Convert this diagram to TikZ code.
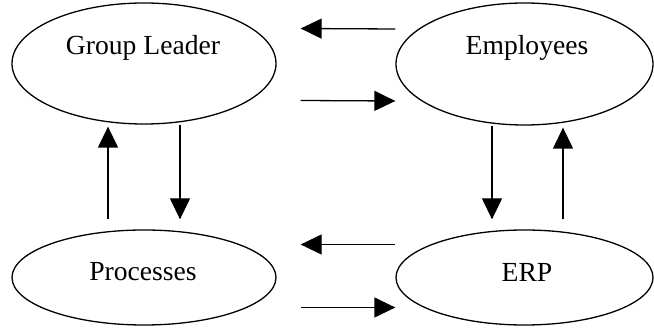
\documentclass[tikz,border=0pt]{standalone}
\usepackage{fontspec}
\setmainfont{Liberation Serif}
\usetikzlibrary{shapes.geometric,arrows.meta}
\tikzset{
  blob/.style={draw,ellipse,line width=1.3pt,inner sep=0pt},
  flow/.style={line width=1.3pt,-{Triangle[length=21pt,width=20pt]}},
  blobtext/.style={font=\fontsize{27.6pt}{30pt}\selectfont}
}
\begin{document}
\begin{tikzpicture}[x=1pt,y=-1pt]
  \useasboundingbox (0,0) rectangle (654,328);
  % 椭圆
  \node[blob,minimum width=264pt,minimum height=121pt] (gl) at (144,63.5) {};
  \node[blob,minimum width=257pt,minimum height=122pt] (emp) at (524.5,64) {};
  \node[blob,minimum width=264pt,minimum height=95pt] (proc) at (144,277.5) {};
  \node[blob,minimum width=257pt,minimum height=95pt] (erp) at (524.5,277.5) {};
  % 文字
  \node[blobtext] (gltxt) at (143,48) {Group Leader};
  \node[blobtext] (emptxt) at (527,48) {Employees};
  \node[blobtext] (proctxt) at (143,272) {Processes};
  \node[blobtext] (erptxt) at (527,272) {ERP};
  % 横向箭头
  \draw[flow] ([yshift=35pt]emp.west) -- ([xshift=24pt,yshift=35pt]gl.east);
  \draw[flow] ([xshift=24pt,yshift=-37pt]gl.east) -- ([yshift=-37pt]emp.west);
  \draw[flow] ([yshift=33pt]erp.west) -- ([xshift=24pt,yshift=33pt]proc.east);
  \draw[flow] ([xshift=24pt,yshift=-30pt]proc.east) -- ([yshift=-30pt]erp.west);
  % 纵向箭头
  \draw[flow] ([xshift=-36pt,yshift=10pt]proc.north) -- ([xshift=-36pt,yshift=-2pt]gl.south);
  \draw[flow] ([xshift=36pt]gl.south) -- ([xshift=36pt,yshift=10pt]proc.north);
  \draw[flow] ([xshift=-32.5pt]emp.south) -- ([xshift=-32.5pt,yshift=10pt]erp.north);
  \draw[flow] ([xshift=38.5pt,yshift=10pt]erp.north) -- ([xshift=38.5pt,yshift=-2pt]emp.south);
\end{tikzpicture}
\end{document}
